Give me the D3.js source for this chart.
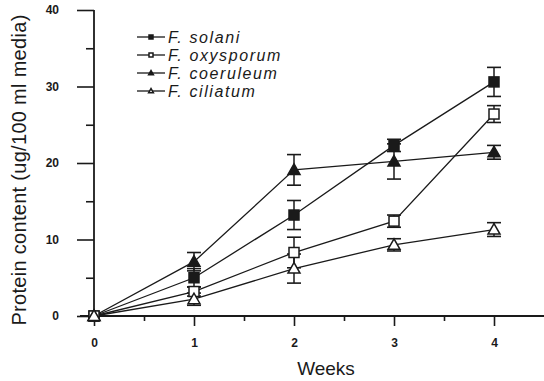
<!DOCTYPE html>
<html>
<head>
<meta charset="utf-8">
<script src="https://cdn.jsdelivr.net/npm/d3@7"></script>
<style>
  body { margin: 0; background: #fff; }
  svg { display: block; }
</style>
</head>
<body>
<svg id="chart" width="544" height="381"></svg>
<script>
// ---- Data ----
const weeks = [0, 1, 2, 3, 4];
const seriesNames = ["F. solani", "F. oxysporum", "F. coeruleum", "F. ciliatum"];
const solani      = [0, 5.0, 13.2, 22.3, 30.6];
const solaniErr   = [0, 1.2, 1.9, 0.8, 1.9];
const oxysporum   = [0, 3.2, 8.3, 12.4, 26.4];
const oxysporumErr= [0, 0.6, 2.0, 0.8, 1.1];
const coeruleum   = [0, 7.1, 19.1, 20.2, 21.4];
const coeruleumErr= [0, 1.2, 2.0, 2.3, 0.9];
const ciliatum    = [0, 2.2, 6.2, 9.3, 11.3];
const ciliatumErr = [0, 0.8, 1.9, 0.8, 0.9];
const yMajorTicks = [0, 10, 20, 30, 40];
const yMinorTicks = [5, 15, 25, 35];
const xMajorTicks = [0, 1, 2, 3, 4];
const xMinorTicks = [0.5, 1.5, 2.5, 3.5];
const xTitle = "Weeks";
const yTitle = "Protein content (ug/100 ml media)";

const markerTypes = ["filledSquare", "openSquare", "filledTriangle", "openTriangle"];
const series = [
  { name: seriesNames[0], values: solani, err: solaniErr, marker: markerTypes[0] },
  { name: seriesNames[1], values: oxysporum, err: oxysporumErr, marker: markerTypes[1] },
  { name: seriesNames[2], values: coeruleum, err: coeruleumErr, marker: markerTypes[2] },
  { name: seriesNames[3], values: ciliatum, err: ciliatumErr, marker: markerTypes[3] }
];

const ink = "#1a1a1a";
const font = "Liberation Sans, Arial, sans-serif";
const svg = d3.select("#chart");

const x = d3.scaleLinear().domain([0, 4]).range([94, 494]);
const y = d3.scaleLinear().domain([0, 40]).range([316, 10]);

// ---- Axes ----
svg.append("line")
  .attr("x1", 80).attr("x2", 544)
  .attr("y1", y(0)).attr("y2", y(0))
  .attr("stroke", ink).attr("stroke-width", 1.8);

const xAxisMajor = d3.axisBottom(x).tickValues(xMajorTicks).tickSize(10).tickPadding(12)
  .tickFormat(d3.format("d")).tickSizeOuter(0);
const gx = svg.append("g").attr("transform", `translate(0,${y(0)})`).call(xAxisMajor);
gx.select(".domain").remove();
gx.selectAll(".tick line").attr("stroke", ink).attr("stroke-width", 1.6);
gx.selectAll(".tick text").attr("fill", ink)
  .style("font-family", font).style("font-weight", "bold").style("font-size", "12px");

const xAxisMinor = d3.axisBottom(x).tickValues(xMinorTicks).tickSize(5).tickFormat("");
const gxm = svg.append("g").attr("transform", `translate(0,${y(0)})`).call(xAxisMinor);
gxm.select(".domain").remove();
gxm.selectAll(".tick line").attr("stroke", ink).attr("stroke-width", 1.6);

svg.append("line")
  .attr("x1", x(0)).attr("x2", x(0))
  .attr("y1", y(40)).attr("y2", y(0) + 5)
  .attr("stroke", ink).attr("stroke-width", 1.8);

const yAxisMajor = d3.axisLeft(y).tickValues(yMajorTicks).tickSize(17).tickPadding(18)
  .tickFormat(d3.format("d")).tickSizeOuter(0);
const gy = svg.append("g").attr("transform", `translate(${x(0)},0)`).call(yAxisMajor);
gy.select(".domain").remove();
gy.selectAll(".tick line").attr("stroke", ink).attr("stroke-width", 1.6);
gy.selectAll(".tick text").attr("fill", ink)
  .style("font-family", font).style("font-weight", "bold").style("font-size", "12px");

const yAxisMinor = d3.axisLeft(y).tickValues(yMinorTicks).tickSize(8).tickFormat("");
const gym = svg.append("g").attr("transform", `translate(${x(0)},0)`).call(yAxisMinor);
gym.select(".domain").remove();
gym.selectAll(".tick line").attr("stroke", ink).attr("stroke-width", 1.6);

// Axis titles
svg.append("text")
  .attr("x", 326).attr("y", 375)
  .attr("text-anchor", "middle")
  .attr("fill", ink)
  .style("font-family", font)
  .style("font-size", "19px")
  .text(xTitle);

svg.append("text")
  .attr("transform", `translate(26,170) rotate(-90)`)
  .attr("text-anchor", "middle")
  .attr("fill", ink)
  .style("font-family", font)
  .style("font-size", "20px")
  .style("letter-spacing", "0.3px")
  .text(yTitle);

// ---- Markers ----
function drawMarker(g, type, cx, cy, s) {
  if (type === "filledSquare" || type === "openSquare") {
    g.append("rect")
      .attr("x", cx - s / 2).attr("y", cy - s / 2)
      .attr("width", s).attr("height", s)
      .attr("fill", type === "filledSquare" ? ink : "#fff")
      .attr("stroke", ink).attr("stroke-width", 1.5);
  } else {
    const pts = [[cx, cy - s * 0.6], [cx - s * 0.6, cy + s * 0.45], [cx + s * 0.6, cy + s * 0.45]];
    g.append("path")
      .attr("d", d3.line()(pts) + "Z")
      .attr("fill", type === "filledTriangle" ? ink : "#fff")
      .attr("stroke", ink).attr("stroke-width", 1.5);
  }
}

const line = d3.line().x((d, i) => x(weeks[i])).y(d => y(d));

series.forEach(s => {
  svg.append("path")
    .datum(s.values)
    .attr("d", line)
    .attr("fill", "none")
    .attr("stroke", ink)
    .attr("stroke-width", 1.3);
});

series.forEach(s => {
  const g = svg.append("g");
  s.values.forEach((v, i) => {
    const e = s.err[i];
    if (e <= 0) return;
    const cx = x(weeks[i]);
    g.append("line").attr("x1", cx).attr("x2", cx)
      .attr("y1", y(v + e)).attr("y2", y(v - e))
      .attr("stroke", ink).attr("stroke-width", 1.5);
    [v + e, v - e].forEach(val => {
      g.append("line").attr("x1", cx - 7).attr("x2", cx + 7)
        .attr("y1", y(val)).attr("y2", y(val))
        .attr("stroke", ink).attr("stroke-width", 1.6);
    });
  });
});

series.forEach(s => {
  const g = svg.append("g");
  s.values.forEach((v, i) => {
    drawMarker(g, s.marker, x(weeks[i]), y(v), 10);
  });
});

// ---- Legend ----
const legend = svg.append("g");
series.forEach((s, i) => {
  const ly = 37 + i * 18;
  legend.append("line")
    .attr("x1", 137).attr("x2", 165)
    .attr("y1", ly).attr("y2", ly)
    .attr("stroke", ink).attr("stroke-width", 1.3);
  drawMarker(legend, s.marker, 151, ly, 4);
  legend.append("text")
    .attr("x", 168).attr("y", ly + 5.5)
    .attr("fill", ink)
    .style("font-family", font)
    .style("font-style", "italic")
    .style("font-size", "16px")
    .style("letter-spacing", "1.6px")
    .text(s.name);
});
</script>
</body>
</html>
